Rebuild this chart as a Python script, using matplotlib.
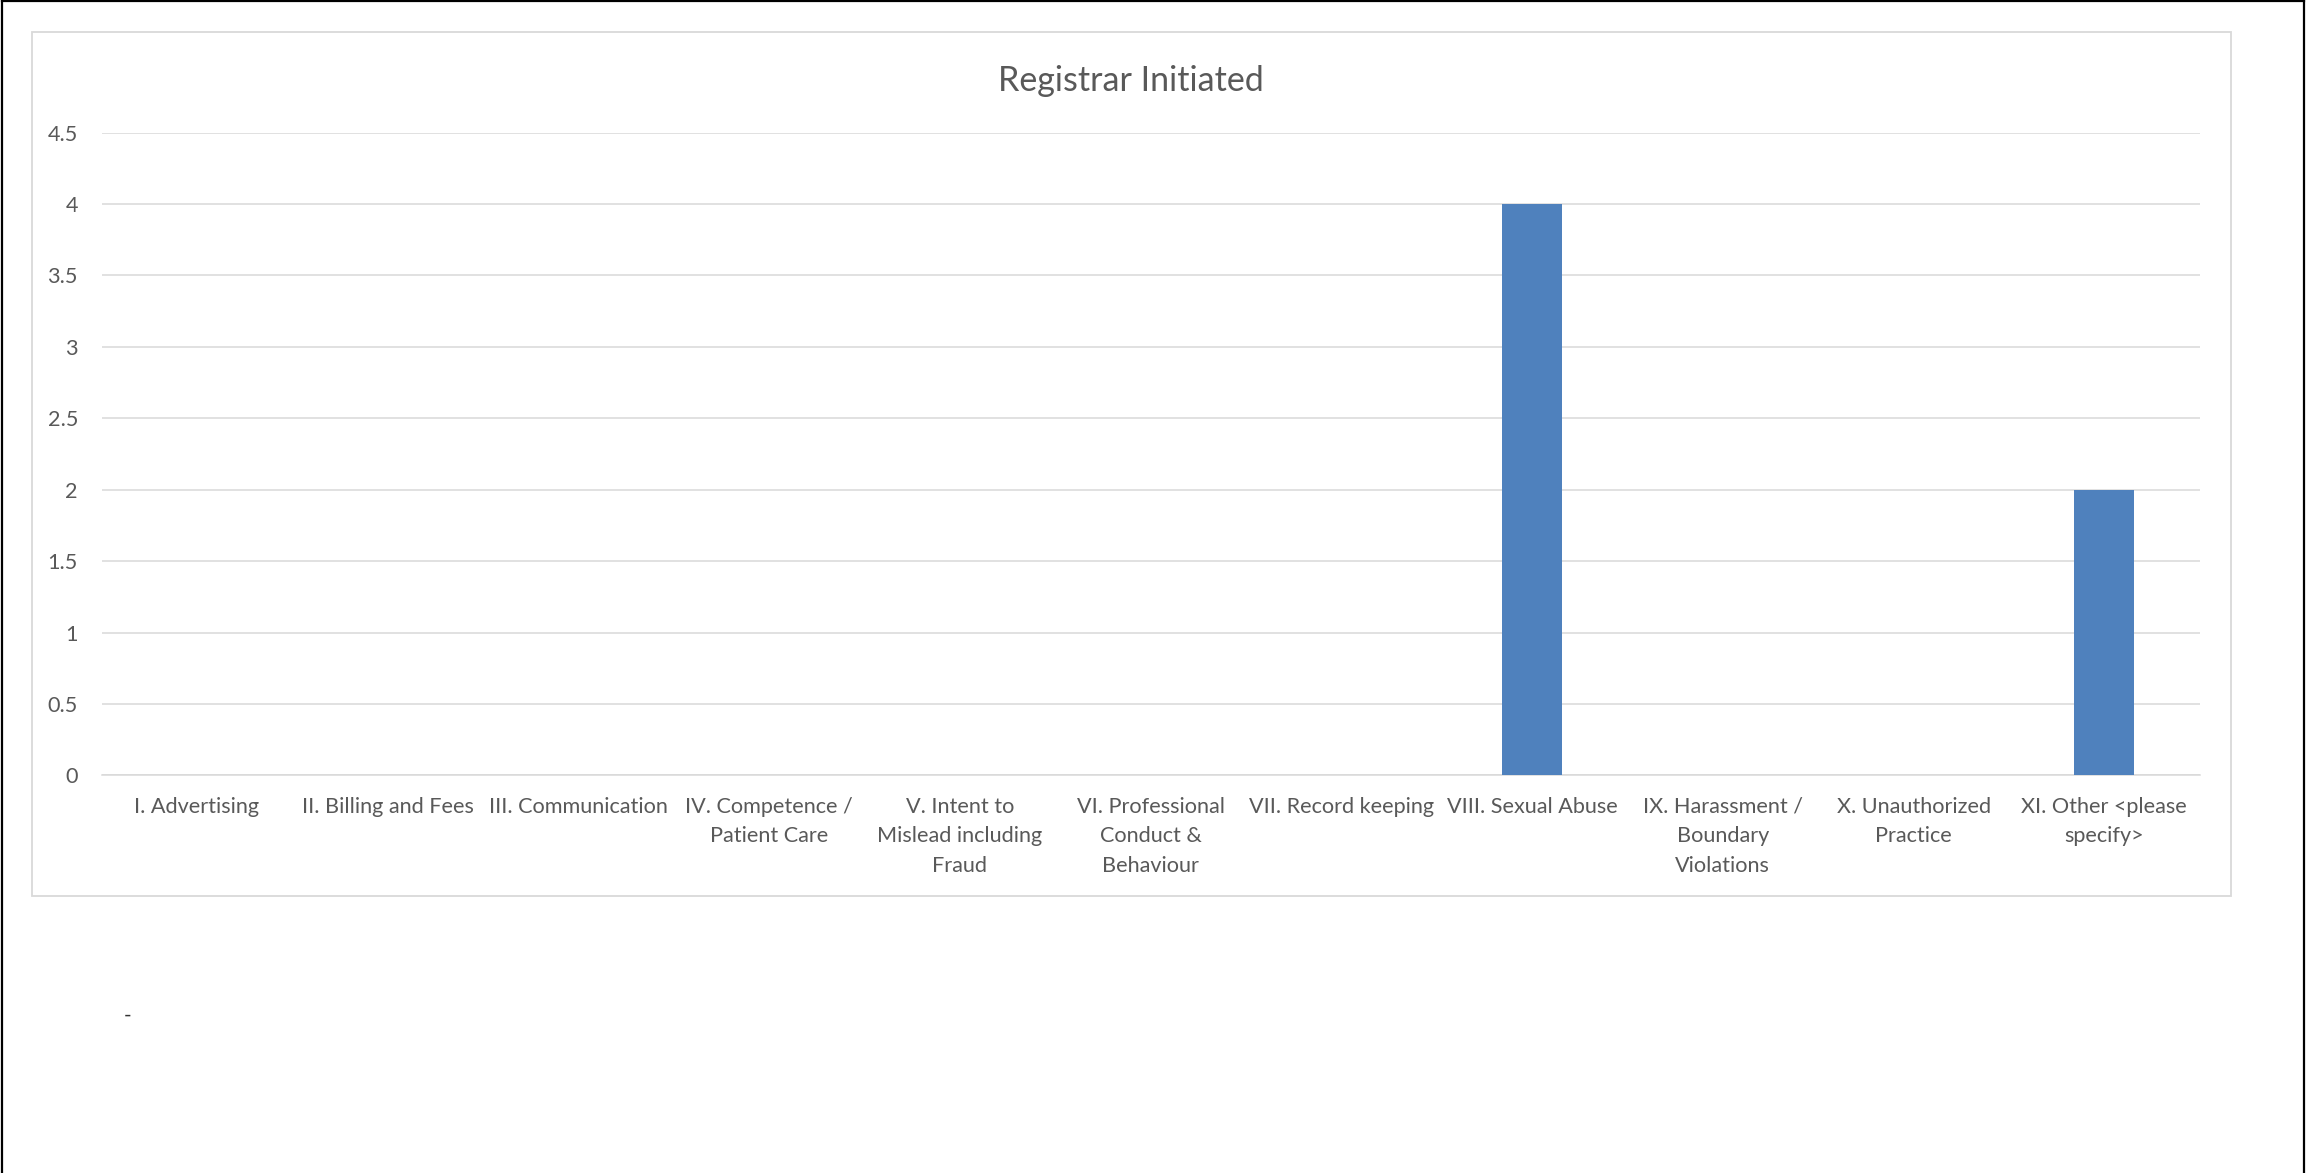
import matplotlib
matplotlib.use("Agg")
import matplotlib.pyplot as plt
from matplotlib.lines import Line2D
from matplotlib.patches import Rectangle
import numpy as np

# Chart data
categories = [
    "I. Advertising",
    "II. Billing and Fees",
    "III. Communication",
    "IV. Competence /\nPatient Care",
    "V. Intent to\nMislead including\nFraud",
    "VI. Professional\nConduct &\nBehaviour",
    "VII. Record keeping",
    "VIII. Sexual Abuse",
    "IX. Harassment /\nBoundary\nViolations",
    "X. Unauthorized\nPractice",
    "XI. Other <please\nspecify>",
]
counts = [0, 0, 0, 0, 0, 0, 0, 4, 0, 0, 2]
y_ticks = [0, 0.5, 1, 1.5, 2, 2.5, 3, 3.5, 4, 4.5]
y_tick_labels = ["0", "0.5", "1", "1.5", "2", "2.5", "3", "3.5", "4", "4.5"]
title = "Registrar Initiated"

text_color = "#595959"
grid_color = "#D9D9D9"
bar_color = "#4F81BD"

plt.rcParams["font.family"] = ["Lato", "DejaVu Sans"]

fig = plt.figure(figsize=(23.07, 11.73), dpi=100)

# Outer page border (left, top, right)
for xs, ys in [([0.0008, 0.0008], [0.0, 0.9988]),
               ([0.0008, 0.9988], [0.9988, 0.9988]),
               ([0.9988, 0.9988], [0.9988, 0.0])]:
    fig.add_artist(Line2D(xs, ys, transform=fig.transFigure, color="black", linewidth=1.6))

# Chart area frame
fig.add_artist(Rectangle((0.014, 0.236), 0.9529, 0.7364, transform=fig.transFigure,
                         fill=False, edgecolor=grid_color, linewidth=1.3))

ax = fig.add_axes([0.044, 0.339, 0.9095, 0.548])
x = np.arange(len(categories))
ax.bar(x, counts, width=0.316, color=bar_color, zorder=3)

ax.set_xlim(-0.5, len(categories) - 0.5)
ax.set_ylim(0, 4.5)
ax.set_yticks(y_ticks)
ax.set_yticklabels(y_tick_labels)
ax.set_xticks(x)
ax.set_xticklabels(categories, linespacing=1.6)
ax.yaxis.grid(True, color=grid_color, linewidth=1.1, zorder=0)
ax.set_axisbelow(True)
for side in ["top", "right", "left"]:
    ax.spines[side].set_visible(False)
ax.spines["bottom"].set_color(grid_color)
ax.spines["bottom"].set_linewidth(1.1)
ax.tick_params(axis="x", length=0, pad=15.5, labelsize=15.6, labelcolor=text_color)
ax.tick_params(axis="y", length=0, pad=17, labelsize=15.6, labelcolor=text_color)

fig.text(0.490, 0.931, title, ha="center", va="center", fontsize=24.5, color=text_color)
fig.text(0.0555, 0.134, "-", ha="center", va="center", fontsize=15, color="#333333")

fig.savefig("out.png", dpi=100)
